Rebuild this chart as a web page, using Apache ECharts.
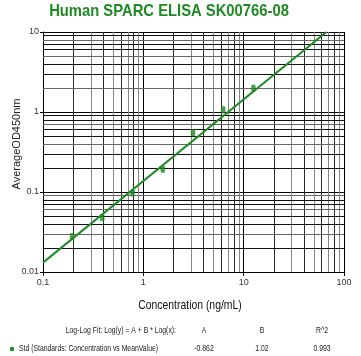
<!DOCTYPE html>
<html><head><meta charset="utf-8">
<script src="https://cdn.jsdelivr.net/npm/echarts@6/dist/echarts.min.js"></script>
<style>html,body{margin:0;padding:0;background:#fff}#c{width:361px;height:356px}</style>
</head><body><div id="c"></div>
<script>
const titleText = "Human SPARC ELISA SK00766-08";
const xName = "Concentration (ng/mL)";
const yName = "AverageOD450nm";
const concentrations = [0.195, 0.39, 0.78, 1.5625, 3.125, 6.25, 12.5];
const meanOD = [0.0277, 0.0478, 0.097, 0.192, 0.55, 1.07, 1.98];
const fitLine = [[0.1, 0.0131], [66.9, 10]];
const xMinorGrid = [0.2,0.3,0.4,0.5,0.6,0.7,0.8,0.9,2,3,4,5,6,7,8,9,20,30,40,50,60,70,80,90];
const yMinorGrid = [0.02,0.03,0.04,0.05,0.06,0.07,0.08,0.09,0.2,0.3,0.4,0.5,0.6,0.7,0.8,0.9,2,3,4,5,6,7,8,9];
const fitHeader = ["Log-Log Fit: Log(y) = A + B * Log(x):", "A", "B", "R^2"];
const fitRow = ["Std (Standards: Concentration vs MeanValue)", "-0.862", "1.02", "0.993"];

const green = '#1f8a24';
const chart = echarts.init(document.getElementById('c'));
const mlData = [];
xMinorGrid.forEach((v, i) => mlData.push({xAxis: v, lineStyle: {color: i % 2 ? '#888' : '#2a2a2a', width: 1, type: 'solid'}}));
yMinorGrid.forEach((v, i) => mlData.push({yAxis: v, lineStyle: {color: i % 3 === 1 ? '#666' : '#111', width: 1, type: 'solid'}}));

const txt = {fontFamily: 'Liberation Sans, Arial', fontSize: 9, fill: '#1a1a1a'};
function t(text, x, y, align, extra) {
  return Object.assign({type: 'text', x: x, y: y, scaleX: 0.76,
    style: Object.assign({}, txt, {text: text, textAlign: align})}, extra || {});
}
chart.setOption({
  animation: false,
  grid: {left: 43, right: 17, top: 32, bottom: 84},
  xAxis: {type: 'log', logBase: 10, min: 0.1, max: 100,
    axisLine: {lineStyle: {color: '#000', width: 1}},
    axisTick: {show: true, length: 4, lineStyle: {color: '#000'}},
    axisLabel: {fontSize: 9, color: '#333', margin: 6, fontFamily: 'Liberation Sans'},
    splitLine: {show: true, lineStyle: {color: '#000', width: 1}}},
  yAxis: {type: 'log', logBase: 10, min: 0.01, max: 10,
    axisLine: {lineStyle: {color: '#000', width: 1}},
    axisTick: {show: true, length: 3, lineStyle: {color: '#000'}},
    axisLabel: {fontSize: 9, color: '#333', margin: 4, fontFamily: 'Liberation Sans',
      formatter: v => String(v)},
    splitLine: {show: true, lineStyle: {color: '#000', width: 1}}},
  series: [
    {type: 'line', data: [], silent: true,
     markLine: {silent: true, symbol: 'none', label: {show: false}, animation: false, data: mlData}},
    {type: 'line', data: fitLine, showSymbol: false, lineStyle: {color: green, width: 2}, z: 5},
    {type: 'scatter', data: concentrations.map((c, i) => [c, meanOD[i]]),
     symbol: 'roundRect', symbolSize: [4.5, 7], itemStyle: {color: green}, z: 6}
  ],
  graphic: [
    {type: 'text', x: 169, y: 3, scaleX: 0.87,
     style: {text: titleText, textAlign: 'center', fill: green, fontSize: 17, fontWeight: 'bold', fontFamily: 'Liberation Sans, Arial'}},
    {type: 'text', x: 190, y: 305, scaleX: 0.8,
     style: {text: xName, textAlign: 'center', textVerticalAlign: 'middle', fill: '#111', fontSize: 13, fontFamily: 'Liberation Sans, Arial'}},
    {type: 'text', x: 17, y: 144, rotation: Math.PI / 2,
     style: {text: yName, textAlign: 'center', textVerticalAlign: 'middle', fill: '#222', fontSize: 11, fontFamily: 'Liberation Sans, Arial'}},
    t(fitHeader[0], 176, 326, 'right'),
    t(fitHeader[1], 204, 326, 'center'),
    t(fitHeader[2], 262, 326, 'center'),
    t(fitHeader[3], 322, 326, 'center'),
    {type: 'circle', shape: {cx: 12, cy: 349, r: 2.2}, style: {fill: green}},
    t(fitRow[0], 19, 344, 'left'),
    t(fitRow[1], 204, 344, 'center'),
    t(fitRow[2], 262, 344, 'center'),
    t(fitRow[3], 322, 344, 'center')
  ]
});
</script></body></html>
